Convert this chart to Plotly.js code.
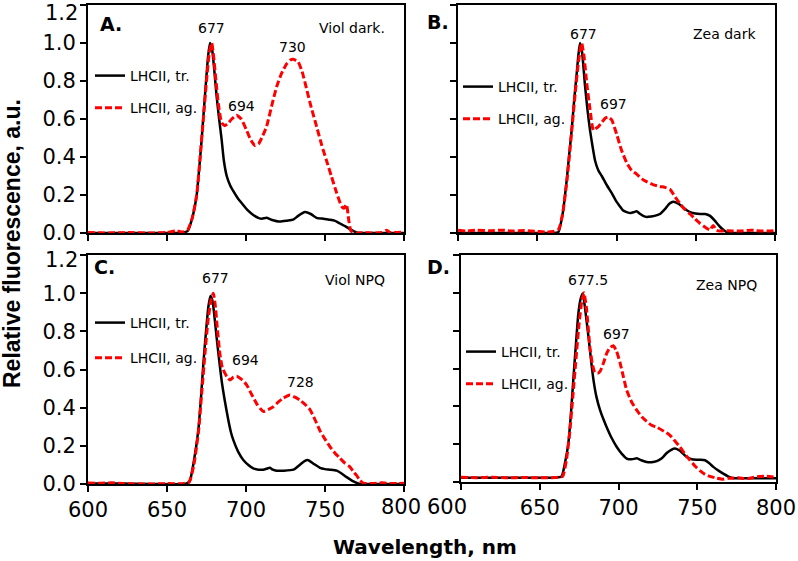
<!DOCTYPE html>
<html>
<head>
<meta charset="utf-8">
<script src="https://cdn.plot.ly/plotly-3.0.1.min.js"></script>
<style>html,body{margin:0;padding:0;background:#fff;}#chart{width:798px;height:561px;}</style>
</head>
<body>
<div id="chart"></div>
<script>
// ---- Data ----
// Panel A: Viol dark
const aTrWl = [600,620,640,655,660,663,666,668.8,670.5,672,674,676,677.2,678.5,680,681.4,683,684.6,686,687.8,690,692,695,698,701,704.6,707.8,710,713,716,721.5,726,729.8,733,737.3,741,744.7,749,753,756,759.5,763,765.8,770,775,800];
const aTr   = [0,0,0,0,0.003,0.01,0.08,0.2,0.35,0.5,0.72,0.93,1.0,0.97,0.85,0.72,0.6,0.49,0.38,0.30,0.25,0.22,0.18,0.15,0.12,0.095,0.08,0.075,0.08,0.07,0.06,0.065,0.07,0.09,0.11,0.1,0.08,0.075,0.07,0.065,0.05,0.035,0.02,0.003,0,0];
const aAgWl = [600,610,625,640,650,656,660,663,666,668.8,671,673,675,676.8,678.3,679.5,681,682.5,684.6,686.7,689,691,694,697,700.4,703,705.7,708,710.5,713,716,719.4,722.5,725.7,728,730,733,735.5,738,741,744.7,748,751,754,757.4,760.5,762,763.6,765,766.5,770,775,780,786,789,791,800];
const aAg   = [0.003,0,0.002,0,0.003,0.012,0.005,0.015,0.08,0.2,0.4,0.6,0.8,0.95,1.0,0.93,0.8,0.68,0.58,0.565,0.58,0.6,0.62,0.6,0.54,0.49,0.46,0.47,0.51,0.56,0.66,0.77,0.84,0.89,0.91,0.914,0.90,0.85,0.77,0.67,0.56,0.46,0.38,0.3,0.21,0.14,0.13,0.15,0.07,0.01,0,0.002,0,0.003,0.015,0.003,0.005];
// Panel B: Zea dark
const bTrWl = [600,640,660,663.3,666,668.6,670,671.7,673.3,674.9,676,677,678.3,680.2,681.8,683.3,685,686.5,688.5,690.7,694,697,700,702.2,704,706.4,709,711,712.7,715,718,720,724,727.4,731,733.5,735.8,739,742,744.3,748,752.7,756,759,762,765.3,769.5,775,800];
const bTr   = [0,0,0,0.005,0.1,0.28,0.4,0.54,0.7,0.84,0.94,1.0,0.95,0.77,0.64,0.54,0.45,0.38,0.33,0.30,0.25,0.21,0.165,0.14,0.12,0.11,0.105,0.11,0.115,0.10,0.086,0.085,0.09,0.10,0.13,0.155,0.165,0.155,0.135,0.12,0.105,0.10,0.10,0.09,0.065,0.033,0.005,0,0];
const bAgWl = [600,605,612,620,628,635,642,650,656,660,663.5,666,668.8,672,674,676,678,679.5,681.2,683.3,685.4,687,688.6,691,693,695,697,700.1,703,706.4,709.5,712.7,716,719,723,727.4,730.5,733.7,737,740,743,746.4,749.5,752.7,756,759,761,763,765.3,770,778,785,792,800];
const bAg   = [0.015,0.01,0.015,0.012,0.015,0.01,0.013,0.008,0.005,0.008,0.02,0.1,0.28,0.56,0.74,0.9,1.0,0.93,0.79,0.65,0.54,0.55,0.56,0.585,0.605,0.61,0.595,0.52,0.44,0.37,0.33,0.31,0.285,0.27,0.255,0.245,0.24,0.23,0.19,0.155,0.125,0.10,0.075,0.05,0.03,0.016,0.04,0.015,0.01,0.012,0.01,0.015,0.01,0.012];
// Panel C: Viol NPQ
const cTrWl = [600,620,640,660,663,664.6,667,669.8,671.5,673,674.7,676.2,677.5,678.8,680,681.4,683,684.6,686.5,688.8,690.5,692,695,698.3,701.5,704.6,708,711,713,715.2,717,719.4,724,730,734,737,739.4,743,746.8,750,753,757.4,760.5,763.7,767,771,775,800];
const cTr   = [0.003,0.002,0,0,0.005,0.02,0.12,0.28,0.45,0.63,0.8,0.93,0.985,0.96,0.88,0.77,0.65,0.54,0.44,0.335,0.27,0.23,0.17,0.126,0.1,0.082,0.075,0.075,0.08,0.085,0.075,0.07,0.07,0.075,0.10,0.12,0.125,0.105,0.085,0.078,0.075,0.07,0.055,0.036,0.018,0.003,0,0];
const cAgWl = [600,608,615,622,630,640,650,660,664,667,670,672,674,676,678,679.3,680.5,681.8,683.5,685,686.7,688,689.9,692,694.1,697,700.4,703.5,706.8,709,711,714,717.3,720.5,723.6,727.8,731,734,737,740.5,743.5,746.8,750,753.2,756.5,759.5,762.5,765.8,768,770,772,774.2,780,786,793,800];
const cAg   = [0.005,0.004,0.006,0.003,0,0,0.002,0.002,0.01,0.1,0.28,0.48,0.68,0.86,0.97,1.0,0.94,0.82,0.68,0.61,0.58,0.56,0.545,0.56,0.565,0.55,0.52,0.47,0.42,0.395,0.38,0.39,0.405,0.43,0.45,0.466,0.455,0.44,0.42,0.39,0.34,0.28,0.235,0.195,0.16,0.135,0.11,0.09,0.065,0.045,0.02,0.005,0.003,0.006,0.002,0.004];
// Panel D: Zea NPQ
const dTrWl = [600,620,640,660,663.9,666,668.1,669.8,671.3,672.9,674.5,676,677.3,678.6,680.9,682.5,684.1,686,688.3,690.5,692.5,695.5,698.9,702,705.2,708.5,711.6,714.5,717.9,721,724.3,727.5,730.6,733.5,735.9,739,743.3,746.5,749.6,752,754.9,757.5,760.2,763.5,766.5,769.5,772.9,780,790,800];
const dTr   = [0.023,0.023,0.023,0.023,0.03,0.1,0.2,0.36,0.54,0.72,0.89,0.97,0.997,0.93,0.77,0.65,0.54,0.45,0.38,0.33,0.29,0.235,0.185,0.15,0.124,0.12,0.125,0.115,0.106,0.105,0.11,0.125,0.153,0.17,0.177,0.165,0.132,0.12,0.118,0.118,0.115,0.1,0.08,0.06,0.044,0.03,0.02,0.02,0.02,0.02];
const dAgWl = [600,610,620,630,640,650,660,664.5,667,669,671,673,675,676.6,678,679.5,681.9,683.5,685,686.7,688.3,690.5,692.5,694.5,696.7,698.8,701,703,705.2,708.5,711.6,714.8,717.9,721,724.3,728.5,732.7,736,739.1,742,745.4,748.5,751.7,755,758.1,762.3,766,770,776,782,788,794,800];
const dAg   = [0.025,0.023,0.025,0.022,0.024,0.022,0.024,0.03,0.12,0.26,0.45,0.65,0.84,0.95,1.0,0.93,0.71,0.62,0.58,0.575,0.585,0.63,0.68,0.71,0.72,0.69,0.63,0.56,0.485,0.42,0.38,0.345,0.32,0.30,0.29,0.27,0.247,0.215,0.185,0.15,0.115,0.085,0.06,0.04,0.03,0.02,0.015,0.02,0.022,0.018,0.028,0.03,0.025];

const seriesNames = ['LHCII, tr.', 'LHCII, ag.'];
const panelLetters = ['A.', 'B.', 'C.', 'D.'];
const panelNames = ['Viol dark.', 'Zea dark', 'Viol NPQ', 'Zea NPQ'];
// peak labels: [wavelength position, height, text]
const peaksA = [[678, 1.08, '677'], [697.3, 0.67, '694'], [729.4, 0.98, '730']];
const peaksB = [[678.9, 1.05, '677'], [698, 0.68, '697']];
const peaksC = [[680.5, 1.08, '677'], [699.4, 0.65, '694'], [734.4, 0.535, '728']];
const peaksD = [[680.8, 1.07, '677.5'], [698.8, 0.785, '697']];
const xTicks = [600, 650, 700, 750, 800];
const yTicks = [0, 0.2, 0.4, 0.6, 0.8, 1.0, 1.2];

// ---- Build ----
const RED = 'rgb(255,0,0)';
const panels = [
  {tr:[aTrWl,aTr], ag:[aAgWl,aAg], peaks:peaksA, sfx:''},
  {tr:[bTrWl,bTr], ag:[bAgWl,bAg], peaks:peaksB, sfx:'2'},
  {tr:[cTrWl,cTr], ag:[cAgWl,cAg], peaks:peaksC, sfx:'3'},
  {tr:[dTrWl,dTr], ag:[dAgWl,dAg], peaks:peaksD, sfx:'4'}
];
const traces = [];
panels.forEach((p, i) => {
  const xa = 'x' + p.sfx, ya = 'y' + p.sfx, lg = 'legend' + p.sfx;
  traces.push({x:p.tr[0], y:p.tr[1], xaxis:xa, yaxis:ya, mode:'lines', name:seriesNames[0],
    line:{color:'#000', width:2.5, shape:'spline', smoothing:0.5}, legend:lg, legendgroup:'tr'+i, showlegend:true});
  traces.push({x:p.ag[0], y:p.ag[1], xaxis:xa, yaxis:ya, mode:'lines', name:seriesNames[1],
    line:{color:RED, width:3, dash:'7px,3px', shape:'spline', smoothing:0.5}, legend:lg, legendgroup:'ag'+i, showlegend:true});
});

const W = 798, H = 561;
const xd = [[88/W, 404/W], [458/W, 775/W], [88/W, 404/W], [461/W, 776/W]];
const yd = [[1-233/H, 1-5/H], [1-233/H, 1-5/H], [1-484/H, 1-255/H], [1-482/H, 1-255/H]];
const tickFont = {family:'DejaVu Sans', size:21, color:'#000'};

const layout = {
  width: W, height: H,
  margin: {l:0, r:0, t:0, b:0},
  paper_bgcolor: '#fff', plot_bgcolor: '#fff',
  showlegend: true,
  annotations: [],
  font: {family:'DejaVu Sans', color:'#000'}
};
const letterPos = [[98, 24], [425, 22], [92, 267], [425, 267]];
const legendPos = [[90, 60], [458, 71], [90, 307], [461, 336]];
panels.forEach((p, i) => {
  const s = p.sfx;
  const xText = xTicks.map(String);
  if (i === 3) xText[0] = '';   // drawn shifted left, below
  if (i === 2) xText[4] = '';   // drawn shifted left, below
  const yText = yTicks.map(v => v.toFixed(1));
  yText[yText.length - 1] = ''; // top label drawn slightly lower, below
  layout['xaxis' + s] = {
    domain: xd[i], range: [600, 800], anchor: 'y' + s,
    tickvals: xTicks, ticktext: xText, showticklabels: i >= 2,
    ticks: 'outside', ticklen: 6, tickwidth: 2, tickcolor: '#000',
    showline: true, linewidth: 2, linecolor: '#000', mirror: true,
    showgrid: false, zeroline: false, tickfont: tickFont, ticklabeloverflow: 'allow'
  };
  layout['yaxis' + s] = {
    domain: yd[i], range: [0, 1.2], anchor: 'x' + s,
    tickvals: yTicks, ticktext: yText, showticklabels: (i % 2) === 0,
    ticks: 'outside', ticklen: 6, tickwidth: 2, tickcolor: '#000',
    showline: true, linewidth: 2, linecolor: '#000', mirror: true,
    showgrid: false, zeroline: false, tickfont: tickFont, ticklabeloverflow: 'allow'
  };
  layout['legend' + s] = {
    x: legendPos[i][0]/W, y: 1 - legendPos[i][1]/H,
    xanchor: 'left', yanchor: 'top', bgcolor: 'rgba(0,0,0,0)', borderwidth: 0,
    font: {family:'DejaVu Sans', size:14, color:'#000'},
    traceorder: 'grouped', tracegroupgap: i === 2 ? 14 : 11, itemwidth: 30
  };
  layout.annotations.push({xref:'paper', yref:'paper', x: letterPos[i][0]/W, y: 1 - letterPos[i][1]/H,
    text: '<b>' + panelLetters[i] + '</b>', showarrow:false, xanchor:'left', yanchor:'middle',
    font:{family:'DejaVu Sans', size:19, color:'#000'}});
  layout.annotations.push({xref:'x'+s, yref:'y'+s, x: 789, y: (i===3)?1.04:(i===2?1.07:(i===1?1.05:1.08)),
    text: panelNames[i], showarrow:false, xanchor:'right', yanchor:'middle',
    font:{family:'DejaVu Sans', size:14, color:'#000'}});
  p.peaks.forEach(pk => {
    layout.annotations.push({xref:'x'+s, yref:'y'+s, x: pk[0], y: pk[1], text: pk[2],
      showarrow:false, xanchor:'center', yanchor:'middle',
      font:{family:'DejaVu Sans', size:14, color:'#000'}});
  });
});
// tick labels that the reference nudges to avoid collisions
layout.annotations.push({xref:'paper', yref:'paper', x: 447/W, y: 1 - 507/H, text: String(xTicks[0]),
  showarrow:false, xanchor:'center', yanchor:'middle', font: tickFont});
layout.annotations.push({xref:'paper', yref:'paper', x: 401/W, y: 1 - 507/H, text: String(xTicks[4]),
  showarrow:false, xanchor:'center', yanchor:'middle', font: tickFont});
[13, 260].forEach(py => {
  layout.annotations.push({xref:'paper', yref:'paper', x: 80/W, y: 1 - py/H, text: yTicks[yTicks.length-1].toFixed(1),
    showarrow:false, xanchor:'right', yanchor:'middle', font: tickFont});
});
// axis titles
layout.annotations.push({xref:'paper', yref:'paper', x: 12/W, y: 1-244/H, text:'<b>Relative fluorescence, a.u.</b>',
  textangle:-90, showarrow:false, xanchor:'center', yanchor:'middle',
  font:{family:'Liberation Sans', size:23, color:'#000'}});
layout.annotations.push({xref:'paper', yref:'paper', x: 425/W, y: 1-547/H, text:'<b>Wavelength, nm</b>',
  showarrow:false, xanchor:'center', yanchor:'middle',
  font:{family:'DejaVu Sans', size:20, color:'#000'}});

Plotly.newPlot('chart', traces, layout, {displayModeBar:false, staticPlot:true});
</script>
</body>
</html>
